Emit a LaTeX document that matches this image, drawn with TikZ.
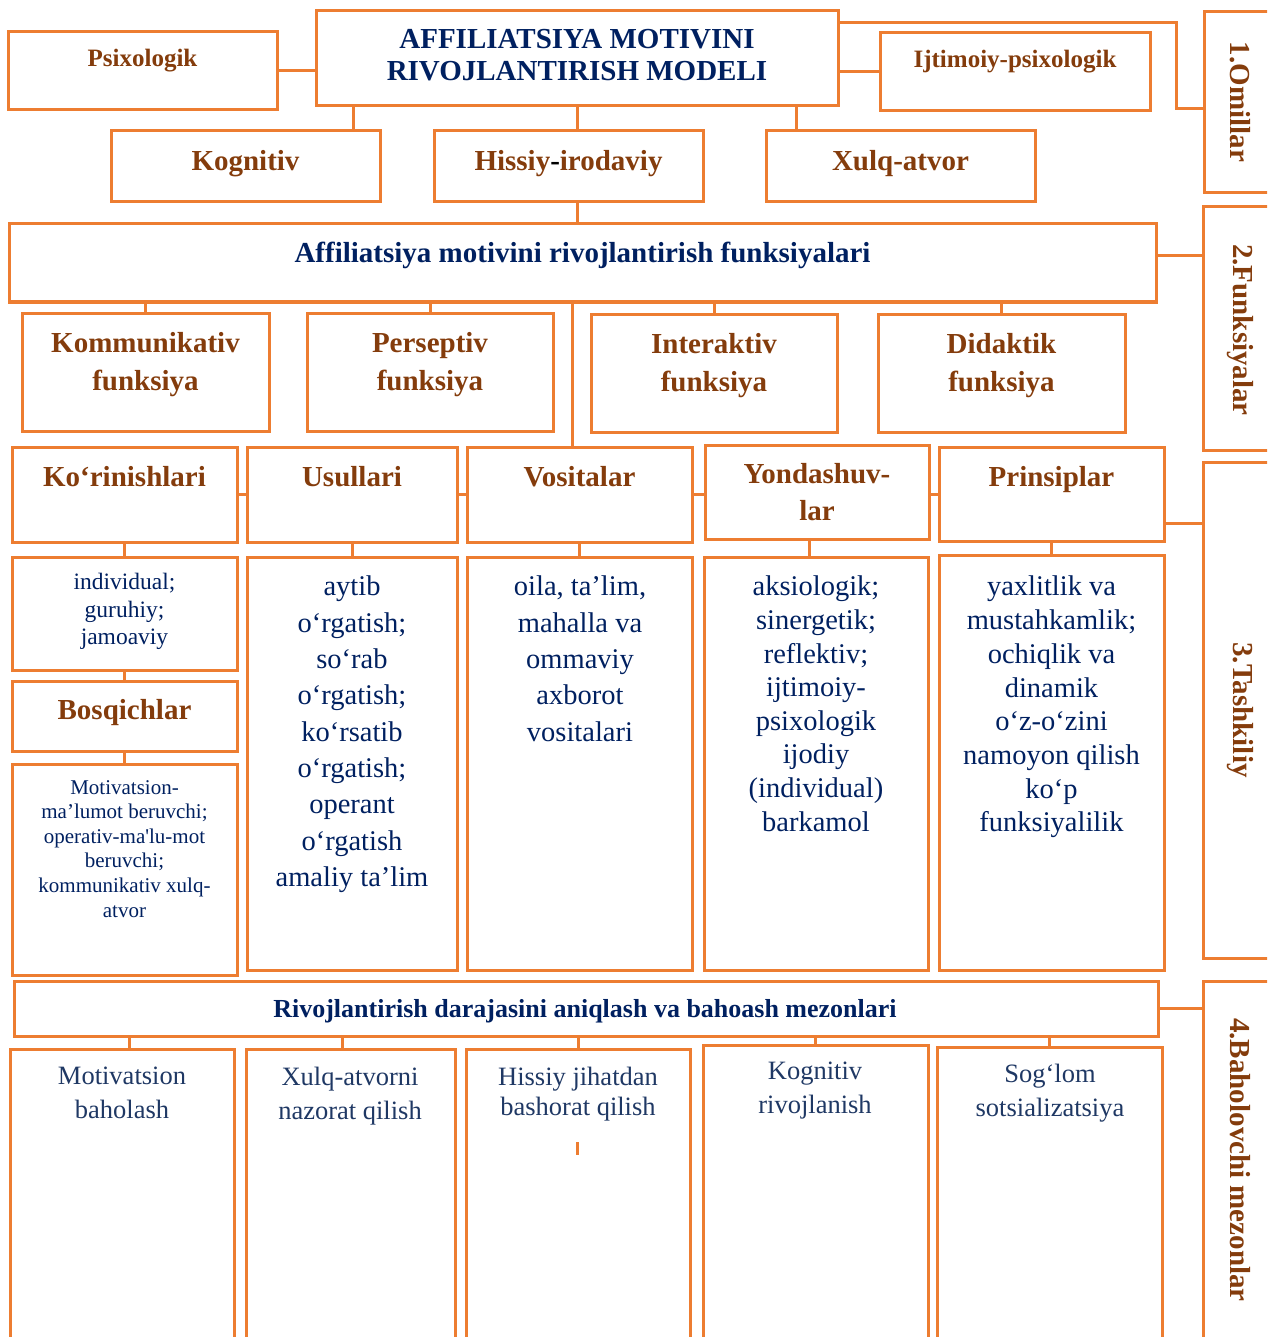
\documentclass[tikz,border=0pt]{standalone}
\usepackage{fontspec}
\setmainfont{Liberation Serif}
\usepackage{tikz}

\definecolor{orln}{HTML}{ED7D31}
\definecolor{brwn}{HTML}{843C0C}
\definecolor{navy}{HTML}{002060}
\definecolor{navyl}{HTML}{1F3864}

\tikzset{
  obox/.style={draw=orln, line width=3pt, inner sep=0pt, outer sep=0pt, anchor=north west},
  orline/.style={draw=orln, line width=3pt},
  hdtext/.style={text=brwn, font=\fontsize{29}{38}\selectfont\bfseries, align=center, inner sep=0pt, anchor=north},
  navtext/.style={text=navy, font=\fontsize{29}{32}\selectfont\bfseries, align=center, inner sep=0pt, anchor=north},
  sidetext/.style={text=brwn, font=\fontsize{29}{35}\selectfont\bfseries, inner sep=0pt, rotate=-90},
  bodytext/.style={text=navy, align=center, inner sep=0pt, anchor=north},
  lowtext/.style={text=navyl, font=\fontsize{26.5}{33.5}\selectfont, align=center, inner sep=0pt, anchor=north}
}

\begin{document}
\begin{tikzpicture}[x=1pt,y=1pt,yscale=-1,xscale=1]
\useasboundingbox (0,0) rectangle (1267,1337);
\clip (0,0) rectangle (1267,1337);

% Boxes: 1. Omillar
\node[obox, minimum width=269pt, minimum height=78pt] (psix) at (8,32) {};
\node[obox, minimum width=522pt, minimum height=95pt] (title) at (316,11) {};
\node[obox, minimum width=270pt, minimum height=78pt] (ijtim) at (880,33) {};
\node[obox, minimum width=80pt, minimum height=181pt] (omil) at (1204,12) {};
\node[obox, minimum width=269pt, minimum height=71pt] (kogn) at (111,131) {};
\node[obox, minimum width=269pt, minimum height=71pt] (hiss) at (434,131) {};
\node[obox, minimum width=269pt, minimum height=71pt] (xulq) at (766,131) {};

% Boxes: 2. Funksiyalar
\node[obox, minimum width=1147pt, minimum height=78pt] (funk) at (9,224) {};
\node[obox, minimum width=80pt, minimum height=243pt] (funks) at (1203,207) {};
\node[obox, minimum width=247pt, minimum height=118pt] (komm) at (22,313) {};
\node[obox, minimum width=246pt, minimum height=118pt] (pers) at (307,313) {};
\node[obox, minimum width=246pt, minimum height=118pt] (inter) at (591,314) {};
\node[obox, minimum width=247pt, minimum height=118pt] (didak) at (878,314) {};

% Boxes: 3. Tashkiliy
\node[obox, minimum width=225pt, minimum height=95pt] (kor) at (12,447) {};
\node[obox, minimum width=210pt, minimum height=95pt] (usul) at (247,447) {};
\node[obox, minimum width=225pt, minimum height=95pt] (vosi) at (467,447) {};
\node[obox, minimum width=224pt, minimum height=94pt] (yond) at (705,445) {};
\node[obox, minimum width=225pt, minimum height=94pt] (prins) at (939,447) {};
\node[obox, minimum width=80pt, minimum height=496pt] (tashk) at (1203,462) {};
\node[obox, minimum width=225pt, minimum height=113pt] (korc) at (12,557) {};
\node[obox, minimum width=225pt, minimum height=70pt] (bosq) at (12,681) {};
\node[obox, minimum width=225pt, minimum height=211pt] (bosqc) at (12,764) {};
\node[obox, minimum width=210pt, minimum height=413pt] (usulc) at (247,557) {};
\node[obox, minimum width=225pt, minimum height=413pt] (vosic) at (467,557) {};
\node[obox, minimum width=224pt, minimum height=413pt] (yondc) at (704,557) {};
\node[obox, minimum width=225pt, minimum height=415pt] (prinsc) at (939,555) {};

% Boxes: 4. Baholovchi mezonlar
\node[obox, minimum width=1144pt, minimum height=55pt] (crit) at (14,981) {};
\node[obox, minimum width=80pt, minimum height=400pt] (baho) at (1203,981) {};
\node[obox, minimum width=224pt, minimum height=350pt] (mot) at (10,1049) {};
\node[obox, minimum width=209pt, minimum height=350pt] (xulqn) at (246,1049) {};
\node[obox, minimum width=224pt, minimum height=350pt] (hissb) at (466,1049) {};
\node[obox, minimum width=225pt, minimum height=355pt] (kognr) at (703,1045) {};
\node[obox, minimum width=225pt, minimum height=353pt] (sogl) at (937,1047) {};

% Connector points
\coordinate (omtop) at (1176,23);
\coordinate (omlow) at (1176,109);
\coordinate (kx) at (353,0);
\coordinate (xx) at (796,0);
\coordinate (fy) at (0,256);
\coordinate (vx) at (572,0);
\coordinate (ty) at (0,523);
\coordinate (yx) at (809,0);
\coordinate (mx) at (129,0);
\coordinate (nx) at (342,0);
\coordinate (tick) at (577,1142);

% Connectors
\draw[orline] (psix.east) -- (psix.east -| title.west);
\draw[orline] (ijtim.west) -- (ijtim.west -| title.east);
\draw[orline] (title.east |- omtop) -- (omtop) -- (omlow) -- (omlow -| omil.west);
\draw[orline] (title.south -| kx) -- (kogn.north -| kx);
\draw[orline] (title.south) -- (title.south |- hiss.north);
\draw[orline] (title.south -| xx) -- (xulq.north -| xx);
\draw[orline] (hiss.south -| title.south) -- (funk.north -| title.south);
\draw[orline] (funk.east |- fy) -- (funks.west |- fy);
\draw[orline] (komm.north) -- (komm.north |- funk.south);
\draw[orline] (pers.north) -- (pers.north |- funk.south);
\draw[orline] (inter.north) -- (inter.north |- funk.south);
\draw[orline] (didak.north) -- (didak.north |- funk.south);
\draw[orline] (funk.south -| vx) -- (vosi.north -| vx);
\draw[orline] (kor.east) -- (usul.west);
\draw[orline] (usul.east) -- (vosi.west);
\draw[orline] (vosi.east) -- (vosi.east -| yond.west);
\draw[orline] (prins.west) -- (prins.west -| yond.east);
\draw[orline] (prins.east |- ty) -- (tashk.west |- ty);
\draw[orline] (kor.south) -- (korc.north);
\draw[orline] (korc.south) -- (bosq.north);
\draw[orline] (bosq.south) -- (bosqc.north);
\draw[orline] (usul.south) -- (usulc.north);
\draw[orline] (vosi.south) -- (vosi.south |- vosic.north);
\draw[orline] (yond.south -| yx) -- (yondc.north -| yx);
\draw[orline] (prins.south) -- (prins.south |- prinsc.north);
\draw[orline] (crit.east) -- (crit.east -| baho.west);
\draw[orline] (crit.south -| mx) -- (mot.north -| mx);
\draw[orline] (crit.south -| nx) -- (xulqn.north -| nx);
\draw[orline] (hissb.north) -- (hissb.north |- crit.south);
\draw[orline] (kognr.north) -- (kognr.north |- crit.south);
\draw[orline] (sogl.north) -- (sogl.north |- crit.south);
\draw[orline] (tick) -- ++(0,13);

% Text Nodes
\node[navtext] (title-t) at (577,29) {AFFILIATSIYA MOTIVINI\\RIVOJLANTIRISH MODELI};
\node[hdtext, font=\fontsize{25}{30}\selectfont\bfseries] (psix-t) at (142.5,49) {Psixologik};
\node[hdtext, font=\fontsize{25}{30}\selectfont\bfseries] (ijtim-t) at (1015,50) {Ijtimoiy-psixologik};
\node[hdtext] (kogn-t) at (245.5,150) {Kognitiv};
\node[hdtext] (hiss-t) at (568.5,150) {Hissiy\textcolor{black}{-}irodaviy};
\node[hdtext] (xulq-t) at (900.5,150) {Xulq-atvor};
\node[navtext] (funk-t) at (582.5,242) {Affiliatsiya motivini rivojlantirish funksiyalari};
\node[hdtext] (komm-t) at (145.5,332) {Kommunikativ\\funksiya};
\node[hdtext] (pers-t) at (430,332) {Perseptiv\\funksiya};
\node[hdtext] (inter-t) at (714,333) {Interaktiv\\funksiya};
\node[hdtext] (didak-t) at (1001.5,333) {Didaktik\\funksiya};
\node[hdtext] (kor-t) at (124.5,466) {Ko‘rinishlari};
\node[hdtext] (usul-t) at (352,466) {Usullari};
\node[hdtext] (vosi-t) at (579.5,466) {Vositalar};
\node[hdtext, font=\fontsize{29}{37}\selectfont\bfseries] (yond-t) at (817,463) {Yondashuv-\\lar};
\node[hdtext] (prins-t) at (1051.5,466) {Prinsiplar};
\node[hdtext] (bosq-t) at (124.5,699) {Bosqichlar};
\node[bodytext, font=\fontsize{23.5}{27.5}\selectfont] (korc-t) at (124.5,573) {individual;\\guruhiy;\\jamoaviy};
\node[bodytext, font=\fontsize{21}{24.6}\selectfont] (bosqc-t) at (124.5,780) {Motivatsion-\\ma’lumot beruvchi;\\operativ-ma\textquotesingle lu-mot\\beruvchi;\\kommunikativ xulq-\\atvor};
\node[bodytext, font=\fontsize{28.5}{36.3}\selectfont] (usulc-t) at (352,576) {aytib\\o‘rgatish;\\so‘rab\\o‘rgatish;\\ko‘rsatib\\o‘rgatish;\\operant\\o‘rgatish\\amaliy ta’lim};
\node[bodytext, font=\fontsize{28.5}{36.3}\selectfont] (vosic-t) at (580,576) {oila, ta’lim,\\mahalla va\\ommaviy\\axborot\\vositalari};
\node[bodytext, font=\fontsize{28.5}{33.6}\selectfont] (yondc-t) at (816,576) {aksiologik;\\sinergetik;\\reflektiv;\\ijtimoiy-\\psixologik\\ijodiy\\(individual)\\barkamol};
\node[bodytext, font=\fontsize{28.5}{33.7}\selectfont] (prinsc-t) at (1051.5,576) {yaxlitlik va\\mustahkamlik;\\ochiqlik va\\dinamik\\o‘z-o‘zini\\namoyon qilish\\ko‘p\\funksiyalilik};
\node[navtext, font=\fontsize{26}{30}\selectfont\bfseries] (crit-t) at (585,999) {Rivojlantirish darajasini aniqlash va bahoash mezonlari};
\node[lowtext] (mot-t) at (122,1067) {Motivatsion\\baholash};
\node[lowtext] (xulqn-t) at (350,1067) {Xulq-atvorni\\nazorat qilish};
\node[lowtext, font=\fontsize{26.5}{30}\selectfont] (hissb-t) at (578,1067) {Hissiy jihatdan\\bashorat qilish};
\node[lowtext] (kognr-t) at (815,1062) {Kognitiv\\rivojlanish};
\node[lowtext, font=\fontsize{26.5}{34}\selectfont] (sogl-t) at (1050,1064) {Sog‘lom\\sotsializatsiya};

% Side labels
\node[sidetext] (omil-t) at (1240,102) {1.Omillar};
\node[sidetext] (funks-t) at (1240,330) {2.Funksiyalar};
\node[sidetext] (tashk-t) at (1240,710) {3.Tashkiliy};
\node[sidetext] (baho-t) at (1240,1160) {4.Baholovchi mezonlar};

\end{tikzpicture}
\end{document}
